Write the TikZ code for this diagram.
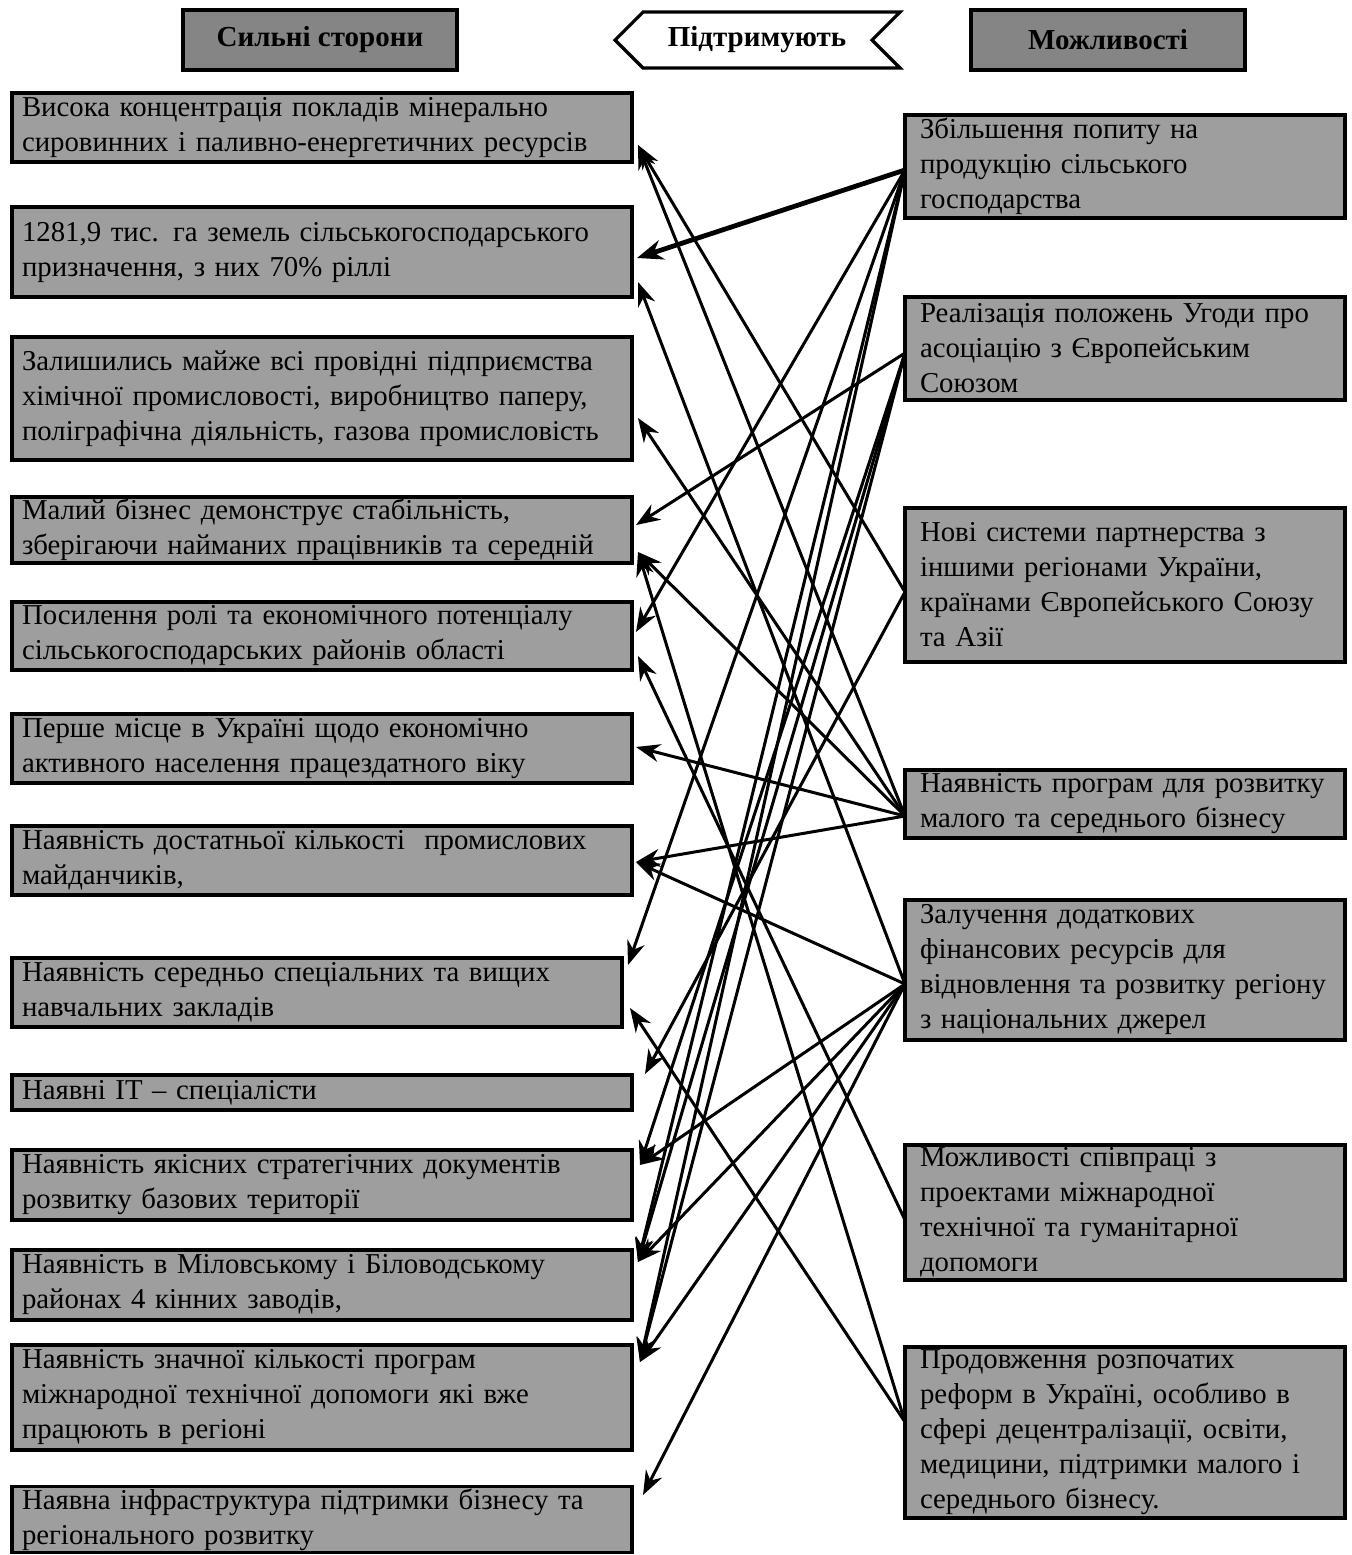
\documentclass[tikz,border=0pt]{standalone}
\usepackage{fontspec}
\setmainfont{Liberation Serif}
\usetikzlibrary{arrows.meta}
\begin{document}
\begin{tikzpicture}[x=0.5pt,y=-0.5pt,
  box/.style={draw=black, line width=1.6pt, fill=black!38, inner ysep=1pt, align=left,
    font=\fontsize{14.4}{17.5}\selectfont},
  lbox/.style={box, inner xsep=5pt, minimum width=310pt, text width=300pt},
  rbox/.style={box, inner xsep=7.5pt, minimum width=220pt, text width=205pt},
  hbox/.style={draw=black, line width=1.8pt, fill=black!48, minimum width=137pt, minimum height=30pt,
    font=\fontsize{14.5}{16}\selectfont\bfseries},
  arr/.style={line width=1.5pt, -{Stealth[length=12pt,width=9pt]}},
  thickarr/.style={line width=2.4pt, -{Stealth[length=13pt,width=10pt]}}]
\useasboundingbox (0,0) rectangle (1352,1555);
% headers
\node[hbox] (H1) at (320,40) {Сильні сторони};
\draw[line width=1.6pt, fill=white] (615,40) -- (643,12) -- (900,12) -- (872,40) -- (900,68) -- (643,68) -- cycle;
\node[font=\fontsize{14.5}{16}\selectfont\bfseries] (H2) at (757,40) {Підтримують};
\node[hbox] (H3) at (1108,40) {Можливості};
% left boxes
\node[lbox, minimum height=34.5pt] (L1) at (322,127.5) {Висока концентрація покладів мінерально\\сировинних і паливно-енергетичних ресурсів};
\node[lbox, minimum height=45pt] (L2) at (322,252) {1281,9 тис. га земель сільськогосподарського\\призначення, з них 70\% ріллі};
\node[lbox, minimum height=61.5pt] (L3) at (322,398.5) {Залишились майже всі провідні підприємства\\хімічної промисловості, виробництво паперу,\\поліграфічна діяльність, газова промисловість};
\node[lbox, minimum height=33pt] (L4) at (322,530) {Малий бізнес демонструє стабільність,\\зберігаючи найманих працівників та середній};
\node[lbox, minimum height=34pt] (L5) at (322,636) {Посилення ролі та економічного потенціалу\\сільськогосподарських районів області};
\node[lbox, minimum height=34.5pt] (L6) at (322,748.5) {Перше місце в Україні щодо економічно\\активного населення працездатного віку};
\node[lbox, minimum height=34.5pt] (L7) at (322,860.5) {Наявність достатньої кількості\ \ промислових\\майданчиків,};
\node[box, inner xsep=5pt, minimum width=305pt, text width=295pt, minimum height=34.5pt] (L8) at (317,992.5) {Наявність середньо спеціальних та вищих\\навчальних закладів};
\node[lbox, minimum height=17.5pt] (L9) at (322,1092.5) {Наявні IT – спеціалісти};
\node[lbox, minimum height=35pt] (L10) at (322,1185) {Наявність якісних стратегічних документів\\розвитку базових території};
\node[lbox, minimum height=35pt] (L11) at (322,1285) {Наявність в Міловському і Біловодському\\районах 4 кінних заводів,};
\node[lbox, minimum height=52.5pt] (L12) at (322,1397.5) {Наявність значної кількості програм\\міжнародної технічної допомоги які вже\\працюють в регіоні};
\node[lbox, minimum height=32.5pt] (L13) at (322,1519.5) {Наявна інфраструктура підтримки бізнесу та\\регіонального розвитку};
% right boxes
\node[rbox, minimum height=51.5pt] (R1) at (1125,166.5) {Збільшення попиту на\\продукцію сільського\\господарства};
\node[rbox, minimum height=51.5pt] (R2) at (1125,348.5) {Реалізація положень Угоди про\\асоціацію з Європейським\\Союзом};
\node[rbox, minimum height=77pt] (R3) at (1125,585) {Нові системи партнерства з\\іншими регіонами України,\\країнами Європейського Союзу\\та Азії};
\node[rbox, minimum height=34pt] (R4) at (1125,804) {Наявність програм для розвитку\\малого та середнього бізнесу};
\node[rbox, minimum height=70pt] (R5) at (1125,970) {Залучення додаткових\\фінансових ресурсів для\\відновлення та розвитку регіону\\з національних джерел};
\node[rbox, minimum height=67.5pt] (R6) at (1125,1212.5) {Можливості співпраці з\\проектами міжнародної\\технічної та гуманітарної\\допомоги};
\node[rbox, minimum height=85.5pt] (R7) at (1125,1432.5) {Продовження розпочатих\\реформ в Україні, особливо в\\сфері децентралізації, освіти,\\медицини, підтримки малого і\\середнього бізнесу.};
% ports on the right boxes
\coordinate (p1) at (905,170);
\coordinate (p2) at (905,353);
\coordinate (p3) at (905,592);
\coordinate (p4) at (905,816);
\coordinate (p5) at (905,984);
\coordinate (p6) at (905,1220);
\coordinate (p7) at (905,1422);
% arrow tips at the left boxes
\coordinate (t1) at (638,145);
\coordinate (t2a) at (637,258);
\coordinate (t2b) at (638,282);
\coordinate (t3) at (638,418);
\coordinate (t4a) at (636,525);
\coordinate (t4b) at (638,552);
\coordinate (t5a) at (636,632);
\coordinate (t5b) at (638,656);
\coordinate (t6) at (636,747);
\coordinate (t7) at (636,862);
\coordinate (t8a) at (628,965);
\coordinate (t8b) at (630,1008);
\coordinate (t9) at (645,1074);
\coordinate (t10) at (640,1165);
\coordinate (t11) at (638,1262);
\coordinate (t12) at (640,1362);
\coordinate (t13) at (643,1495);
% connectors
\draw[thickarr] (p1) -- (t2a);
\draw[arr] (p1) -- (t5a);
\draw[arr] (p1) -- (t8a);
\draw[arr] (p1) -- (t11);
\draw[arr] (p1) -- (t12);
\draw[arr] (p2) -- (t4a);
\draw[arr] (p2) -- (t10);
\draw[arr] (p2) -- (t11);
\draw[arr] (p2) -- (t12);
\draw[arr] (p3) -- (t1);
\draw[arr] (p3) -- (t9);
\draw[arr] (p4) -- (t1);
\draw[arr] (p4) -- (t3);
\draw[arr] (p4) -- (t4b);
\draw[arr] (p4) -- (t6);
\draw[arr] (p4) -- (t7);
\draw[arr] (p5) -- (t2b);
\draw[arr] (p5) -- (t7);
\draw[arr] (p5) -- (t10);
\draw[arr] (p5) -- (t11);
\draw[arr] (p5) -- (t12);
\draw[arr] (p5) -- (t13);
\draw[arr] (p6) -- (t5b);
\draw[arr] (p7) -- (t4b);
\draw[arr] (p7) -- (t8b);
\end{tikzpicture}
\end{document}
